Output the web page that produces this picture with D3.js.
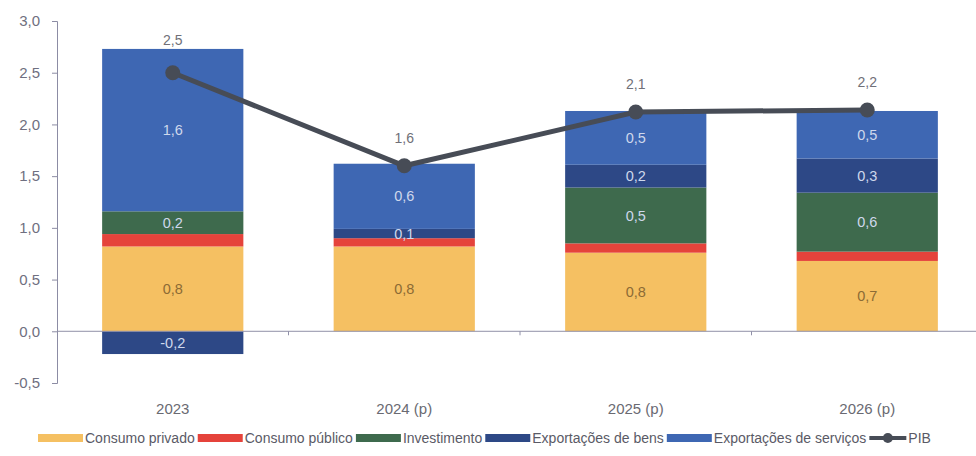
<!DOCTYPE html>
<html>
<head>
<meta charset="utf-8">
<script src="https://cdn.jsdelivr.net/npm/d3@7"></script>
<style>
  body { margin: 0; background: #fff; }
  text { font-family: "Liberation Sans", "DejaVu Sans", sans-serif; }
</style>
</head>
<body>
<div id="chart"></div>
<script>
// categories and series (contributions, p.p.)
var categories = ["2023", "2024 (p)", "2025 (p)", "2026 (p)"];
var seriesNames = ["Consumo privado", "Consumo público", "Investimento", "Exportações de bens", "Exportações de serviços"];
var consumoPrivado = [0.82, 0.82, 0.76, 0.68];
var consumoPublico = [0.12, 0.08, 0.09, 0.09];
var investimento   = [0.22, 0.00, 0.54, 0.57];
var exportBens     = [-0.22, 0.09, 0.22, 0.33];
var exportServicos = [1.57, 0.63, 0.52, 0.46];
var pibValues = [2.5, 1.6, 2.12, 2.14];
var pibLabels = ["2,5", "1,6", "2,1", "2,2"];
var yTicks = [-0.5, 0, 0.5, 1.0, 1.5, 2.0, 2.5, 3.0];

var colors = ["#F5C062", "#E5433B", "#3E6A4D", "#2D4886", "#3E67B3"];
var lineColor = "#474C56";

var W = 976, H = 456;
var svg = d3.select("#chart").append("svg")
  .attr("width", W)
  .attr("height", H);

// build rows for the stack
var rows = categories.map(function(c, i) {
  return {
    cat: c,
    "Consumo privado": consumoPrivado[i],
    "Consumo público": consumoPublico[i],
    "Investimento": investimento[i],
    "Exportações de bens": exportBens[i],
    "Exportações de serviços": exportServicos[i]
  };
});

var x = d3.scaleBand()
  .domain(categories)
  .range([57, 983])
  .paddingInner(0.39)
  .paddingOuter(0.195);

var y = d3.scaleLinear()
  .domain([-0.5, 3.0])
  .range([383, 21]);

var stack = d3.stack()
  .keys(seriesNames)
  .offset(d3.stackOffsetDiverging);
var stacked = stack(rows);

var fmt = function(v) { return d3.format(".1f")(v).replace(".", ",").replace("−", "-"); };

// bars
var layers = svg.selectAll("g.layer")
  .data(stacked).enter()
  .append("g")
  .attr("class", "layer")
  .attr("fill", function(d, i) { return colors[i]; });

layers.selectAll("rect")
  .data(function(d) { return d; })
  .enter().append("rect")
  .attr("x", function(d) { return x(d.data.cat); })
  .attr("width", x.bandwidth())
  .attr("y", function(d) { return y(Math.max(d[0], d[1])); })
  .attr("height", function(d) { return Math.abs(y(d[0]) - y(d[1])); });

// segment labels
stacked.forEach(function(layer, li) {
  if (li == 1) return; // consumo publico not labelled
  svg.append("g").selectAll("text")
    .data(layer.filter(function(d) { return Math.abs(d[1] - d[0]) >= 0.05; }))
    .enter().append("text")
    .attr("x", function(d) { return x(d.data.cat) + x.bandwidth() / 2; })
    .attr("y", function(d) { return (y(d[0]) + y(d[1])) / 2; })
    .attr("dy", "0.35em")
    .attr("text-anchor", "middle")
    .style("font-size", "14.5px")
    .style("fill", li == 0 ? "#8c6b35" : "#cfd8ec")
    .text(function(d) {
      var v = d.data[layer.key];
      return fmt(v);
    });
});

// y axis
var yAxis = svg.append("g")
  .attr("transform", "translate(57,0)")
  .call(d3.axisLeft(y).tickValues(yTicks).tickSize(5).tickFormat(function(d) { return d3.format(".1f")(d).replace(".", ",").replace("−", "-"); }));
yAxis.select(".domain").attr("stroke", "#8c8ca4");
yAxis.selectAll(".tick line").attr("stroke", "#8c8ca4");
yAxis.selectAll(".tick text")
  .attr("x", -17)
  .style("font-size", "15px")
  .style("fill", "#6f6f80")
  .style("font-family", "Liberation Sans, sans-serif");

// zero line with ticks between categories
var step = x.step();
svg.append("line")
  .attr("x1", 57).attr("x2", W)
  .attr("y1", y(0)).attr("y2", y(0))
  .attr("stroke", "#9090a8")
  .attr("stroke-width", 1);
svg.append("g").selectAll("line")
  .data(categories.slice(0, -1))
  .enter().append("line")
  .attr("x1", function(d) { return x(d) + x.bandwidth() + (step - x.bandwidth()) / 2; })
  .attr("x2", function(d) { return x(d) + x.bandwidth() + (step - x.bandwidth()) / 2; })
  .attr("y1", y(0)).attr("y2", y(0) + 4)
  .attr("stroke", "#9090a8");

// category labels
svg.append("g").selectAll("text")
  .data(categories)
  .enter().append("text")
  .attr("x", function(d) { return x(d) + x.bandwidth() / 2; })
  .attr("y", 414)
  .attr("text-anchor", "middle")
  .style("font-size", "15px")
  .style("fill", "#6a6a72")
  .text(function(d) { return d; });

// PIB line
var line = d3.line()
  .x(function(d, i) { return x(categories[i]) + x.bandwidth() / 2; })
  .y(function(d) { return y(d); });

svg.append("path")
  .datum(pibValues)
  .attr("d", line)
  .attr("fill", "none")
  .attr("stroke", lineColor)
  .attr("stroke-width", 5);

svg.append("g").selectAll("circle")
  .data(pibValues)
  .enter().append("circle")
  .attr("cx", function(d, i) { return x(categories[i]) + x.bandwidth() / 2; })
  .attr("cy", function(d) { return y(d); })
  .attr("r", 7.5)
  .attr("fill", lineColor);

// label above the point, but kept clear of the bar top
var barTop = categories.map(function(c, i) {
  return d3.max(stacked, function(s) { return s[i][1]; });
});
svg.append("g").selectAll("text")
  .data(pibValues)
  .enter().append("text")
  .attr("x", function(d, i) { return x(categories[i]) + x.bandwidth() / 2; })
  .attr("y", function(d, i) { return Math.min(y(d) - 23, y(barTop[i]) - 4); })
  .attr("text-anchor", "middle")
  .style("font-size", "14px")
  .style("fill", "#707078")
  .text(function(d, i) { return pibLabels[i]; });

// legend
var legend = svg.append("g").attr("transform", "translate(38,438)");
var lx = 0;
var legendItems = seriesNames.concat(["PIB"]);
legendItems.forEach(function(name, i) {
  var g = legend.append("g").attr("transform", "translate(" + lx + ",0)");
  if (i < seriesNames.length) {
    g.append("rect")
      .attr("x", 0).attr("y", -4)
      .attr("width", 45).attr("height", 8)
      .attr("fill", colors[i]);
  } else {
    g.append("line")
      .attr("x1", 0).attr("x2", 37)
      .attr("y1", 0).attr("y2", 0)
      .attr("stroke", lineColor).attr("stroke-width", 4);
    g.append("circle")
      .attr("cx", 18.5).attr("cy", 0).attr("r", 5)
      .attr("fill", lineColor);
  }
  var sw = i < seriesNames.length ? 45 : 37;
  var t = g.append("text")
    .attr("x", sw + 2)
    .attr("y", 0)
    .attr("dy", "0.35em")
    .style("font-size", "14px")
    .style("fill", "#5a5a66")
    .text(name);
  lx += sw + 2 + t.node().getComputedTextLength() + 3;
});
</script>
</body>
</html>
